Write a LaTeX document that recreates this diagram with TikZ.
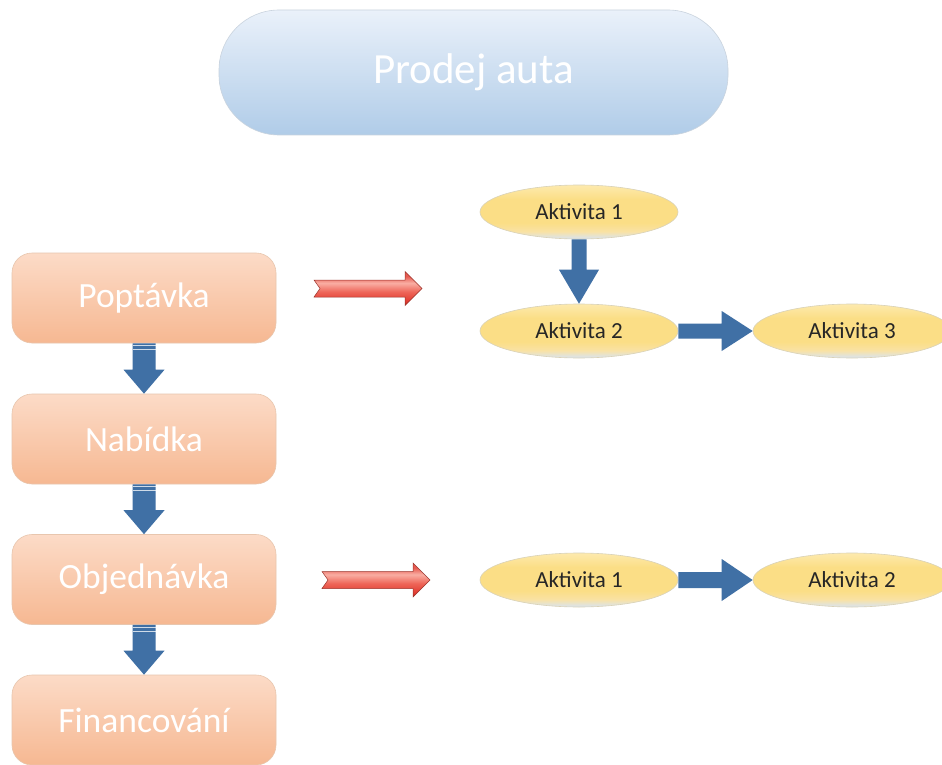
\documentclass[tikz,border=0pt]{standalone}
\usepackage{fontspec}
\setmainfont{Carlito}
\usetikzlibrary{calc,shapes.geometric}

\definecolor{titletop}{HTML}{EAF1FA}
\definecolor{titlemid}{HTML}{B9D3EC}
\definecolor{titlebot}{HTML}{B0CCE8}
\definecolor{titleline}{HTML}{C9D3DE}
\definecolor{peachtop}{HTML}{FCDBC7}
\definecolor{peachbot}{HTML}{F6B892}
\definecolor{peachline}{HTML}{E8C6AE}
\definecolor{goldtop}{HTML}{FDEAAE}
\definecolor{goldmid}{HTML}{FBDE86}
\definecolor{goldlow}{HTML}{F9E2A4}
\definecolor{goldbot}{HTML}{D8E4F2}
\definecolor{goldline}{HTML}{D9D2B8}
\definecolor{stepblue}{RGB}{64,112,165}
\definecolor{redtop}{HTML}{E65A50}
\definecolor{redband}{HTML}{F9AEA3}
\definecolor{redmid}{HTML}{EE6558}
\definecolor{redlow}{HTML}{E13B31}
\definecolor{redbot}{HTML}{A9241C}
\definecolor{redline}{HTML}{9A342C}

% vertical colour runs (the path spans 25bp to 75bp)
\pgfdeclareverticalshading{goldshade}{100bp}{%
  color(0bp)=(goldbot); color(25bp)=(goldbot); color(32bp)=(goldlow);
  color(40bp)=(goldmid); color(62bp)=(goldmid); color(75bp)=(goldtop);
  color(100bp)=(goldtop)}
\pgfdeclareverticalshading{redshade}{100bp}{%
  color(0bp)=(redbot); color(25bp)=(redbot); color(31bp)=(redlow);
  color(45bp)=(redmid); color(58bp)=(redband); color(68bp)=(redtop);
  color(75bp)=(redtop); color(100bp)=(redtop)}

\tikzset{
  titlebox/.style={draw=titleline, line width=0.6pt, top color=titletop,
    middle color=titlemid, bottom color=titlebot, rounded corners=60pt,
    minimum width=509pt, minimum height=125pt, inner sep=0pt,
    text=white, font=\fontsize{43}{50}\selectfont},
  phasebox/.style={draw=peachline, line width=0.6pt, top color=peachtop,
    bottom color=peachbot, rounded corners=20pt,
    minimum width=264pt, minimum height=90pt, inner sep=0pt,
    text=white, font=\fontsize{35.5}{40}\selectfont},
  taskbox/.style={ellipse, draw=goldline, line width=0.6pt, shading=goldshade,
    minimum width=198pt, minimum height=54pt, inner sep=0pt,
    text=black!85, font=\fontsize{23}{26}\selectfont},
  blockfill/.style={fill=stepblue, draw=none},
  redfill/.style={draw=redline, line width=0.5pt, shading=redshade},
  % horizontal block arrow: shaft half width, head half width, head length
  harrow/.style n args={3}{to path={let \p1=(\tikztostart), \p2=(\tikztotarget) in
    (\x1,\y1+#1) -- (\x2-#3,\y1+#1) -- (\x2-#3,\y1+#2) -- (\x2,\y1)
    -- (\x2-#3,\y1-#2) -- (\x2-#3,\y1-#1) -- (\x1,\y1-#1) -- cycle}},
  % downward block arrow
  varrow/.style n args={3}{to path={let \p1=(\tikztostart), \p2=(\tikztotarget) in
    (\x1-#1,\y1) -- (\x1-#1,\y2+#3) -- (\x1-#2,\y2+#3) -- (\x1,\y2)
    -- (\x1+#2,\y2+#3) -- (\x1+#1,\y2+#3) -- (\x1+#1,\y1) -- cycle}},
  % notched block arrow
  narrow/.style n args={3}{to path={let \p1=(\tikztostart), \p2=(\tikztotarget) in
    (\x1,\y1+#1) -- (\x2-#3,\y1+#1) -- (\x2-#3,\y1+#2) -- (\x2,\y1)
    -- (\x2-#3,\y1-#2) -- (\x2-#3,\y1-#1) -- (\x1,\y1-#1) -- (\x1+6pt,\y1) -- cycle}},
}

\begin{document}
\begin{tikzpicture}[x=1pt,y=-1pt]
\useasboundingbox (0,0) rectangle (942,765);
\clip (0,0) rectangle (942,765);
\fill[white] (0,0) rectangle (942,765);

% title
\node[titlebox] (title) at (473.5,72.5) {Prodej auta};

% process phases
\node[phasebox] (pop) at (144,298) {Poptávka};
\node[phasebox] (nab) at (144,439) {Nabídka};
\node[phasebox] (obj) at (144,579.5) {Objednávka};
\node[phasebox] (fin) at (144,720) {Financování};

% phase flow
\foreach \a/\b in {pop/nab, nab/obj, obj/fin}{
  \path[blockfill] (\a.south) to[varrow={11.5pt}{20.5pt}{24pt}] (\b.north);
  \draw[white, opacity=0.75, line width=0.8pt]
    ($(\a.south)+(-11.5,2.5)$) -- ($(\a.south)+(11.5,2.5)$)
    ($(\a.south)+(-11.5,6.5)$) -- ($(\a.south)+(11.5,6.5)$);
}

% activities of the inquiry phase
\node[taskbox] (a1) at (579,212) {Aktivita 1};
\node[taskbox] (a2) at (579,331) {Aktivita 2};
\node[taskbox] (a3) at (852,331) {Aktivita 3};
\path[blockfill] (a1.south) to[varrow={7.5pt}{20pt}{34pt}] (a2.north);
\path[blockfill] (a2.east) to[harrow={7.5pt}{20pt}{31pt}] (a3.west);

% activities of the order phase
\node[taskbox] (b1) at (579,580) {Aktivita 1};
\node[taskbox] (b2) at (852,580) {Aktivita 2};
\path[blockfill] (b1.east) to[harrow={8pt}{21pt}{31pt}] (b2.west);

% expansion arrows
\coordinate (r1s) at (314,288.5);
\coordinate (r1e) at (422,288.5);
\coordinate (r2s) at (322,580);
\coordinate (r2e) at (430,580);
\path[redfill] (r1s) to[narrow={8.5pt}{17pt}{17pt}] (r1e);
\path[redfill] (r2s) to[narrow={8.5pt}{17pt}{17pt}] (r2e);
\end{tikzpicture}
\end{document}
